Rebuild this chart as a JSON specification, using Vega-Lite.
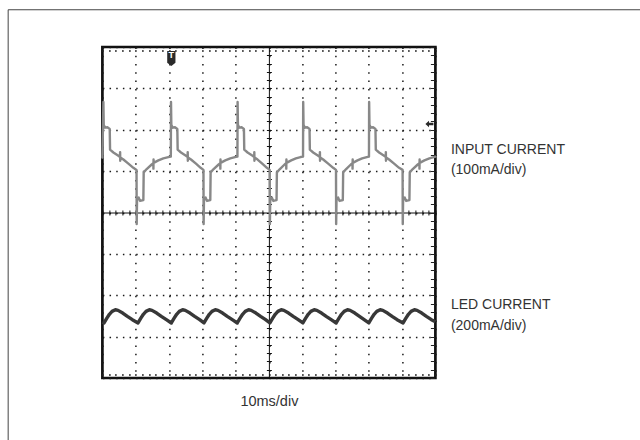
{
  "$schema": "https://vega.github.io/schema/vega-lite/v6.json",
  "width": 333,
  "height": 331,
  "autosize": {"type": "none"},
  "padding": {"left": 102.4, "top": 47, "right": 204.6, "bottom": 62},
  "background": "white",
  "config": {"view": {"stroke": "#111", "strokeWidth": 2.7}},
  "datasets": {
    "markers": [{"t": 2.07, "level": 6.14}],
    "input": [
      {"t":0,"v":5.33},{"t":0.03,"v":6.67},{"t":0.04,"v":6.12},{"t":0.08,"v":6.05},{"t":0.15,"v":6.06},{"t":0.22,"v":6.02},{"t":0.23,"v":5.52},{"t":0.33,"v":5.45},{"t":0.48,"v":5.37},{"t":0.53,"v":5.34},{"t":0.532,"v":5.46},{"t":0.536,"v":5.25},{"t":0.54,"v":5.33},{"t":0.63,"v":5.28},{"t":0.78,"v":5.18},{"t":0.93,"v":5.08},{"t":1.025,"v":5.03},{"t":1.03,"v":3.72},{"t":1.04,"v":4.3},{"t":1.09,"v":4.36},{"t":1.13,"v":4.28},{"t":1.23,"v":4.3},{"t":1.24,"v":4.97},{"t":1.33,"v":5.05},{"t":1.48,"v":5.16},{"t":1.53,"v":5.19},{"t":1.532,"v":5.06},{"t":1.536,"v":5.28},{"t":1.54,"v":5.2},{"t":1.68,"v":5.26},{"t":1.83,"v":5.31},{"t":1.98,"v":5.34},{"t":2.055,"v":5.35},
      {"t":2.06,"v":6.67},{"t":2.07,"v":6.12},{"t":2.11,"v":6.05},{"t":2.18,"v":6.06},{"t":2.25,"v":6.02},{"t":2.26,"v":5.52},{"t":2.36,"v":5.45},{"t":2.51,"v":5.37},{"t":2.56,"v":5.34},{"t":2.562,"v":5.46},{"t":2.566,"v":5.25},{"t":2.57,"v":5.33},{"t":2.66,"v":5.28},{"t":2.81,"v":5.18},{"t":2.95,"v":5.08},{"t":3.035,"v":5.03},{"t":3.04,"v":3.72},{"t":3.05,"v":4.3},{"t":3.1,"v":4.36},{"t":3.14,"v":4.28},{"t":3.24,"v":4.3},{"t":3.25,"v":4.97},{"t":3.34,"v":5.05},{"t":3.49,"v":5.16},{"t":3.54,"v":5.19},{"t":3.542,"v":5.06},{"t":3.546,"v":5.28},{"t":3.55,"v":5.2},{"t":3.69,"v":5.26},{"t":3.84,"v":5.31},{"t":3.98,"v":5.34},{"t":4.055,"v":5.35},
      {"t":4.06,"v":6.67},{"t":4.07,"v":6.12},{"t":4.11,"v":6.05},{"t":4.18,"v":6.06},{"t":4.25,"v":6.02},{"t":4.26,"v":5.52},{"t":4.36,"v":5.45},{"t":4.51,"v":5.37},{"t":4.56,"v":5.34},{"t":4.562,"v":5.46},{"t":4.566,"v":5.25},{"t":4.57,"v":5.33},{"t":4.66,"v":5.28},{"t":4.8,"v":5.18},{"t":4.94,"v":5.08},{"t":5.025,"v":5.03},{"t":5.03,"v":3.72},{"t":5.04,"v":4.3},{"t":5.09,"v":4.36},{"t":5.13,"v":4.28},{"t":5.23,"v":4.3},{"t":5.24,"v":4.97},{"t":5.33,"v":5.05},{"t":5.47,"v":5.16},{"t":5.52,"v":5.19},{"t":5.522,"v":5.06},{"t":5.526,"v":5.28},{"t":5.53,"v":5.2},{"t":5.67,"v":5.26},{"t":5.81,"v":5.31},{"t":5.95,"v":5.34},{"t":6.025,"v":5.35},
      {"t":6.03,"v":6.67},{"t":6.04,"v":6.12},{"t":6.08,"v":6.05},{"t":6.15,"v":6.06},{"t":6.22,"v":6.02},{"t":6.23,"v":5.52},{"t":6.33,"v":5.45},{"t":6.48,"v":5.37},{"t":6.53,"v":5.34},{"t":6.532,"v":5.46},{"t":6.536,"v":5.25},{"t":6.54,"v":5.33},{"t":6.63,"v":5.28},{"t":6.78,"v":5.18},{"t":6.93,"v":5.08},{"t":7.015,"v":5.03},{"t":7.02,"v":3.72},{"t":7.03,"v":4.3},{"t":7.08,"v":4.36},{"t":7.12,"v":4.28},{"t":7.22,"v":4.3},{"t":7.23,"v":4.97},{"t":7.32,"v":5.05},{"t":7.46,"v":5.16},{"t":7.51,"v":5.19},{"t":7.512,"v":5.06},{"t":7.516,"v":5.28},{"t":7.52,"v":5.2},{"t":7.66,"v":5.26},{"t":7.8,"v":5.31},{"t":7.94,"v":5.34},{"t":8.005,"v":5.35},
      {"t":8.01,"v":6.67},{"t":8.02,"v":6.12},{"t":8.06,"v":6.05},{"t":8.13,"v":6.06},{"t":8.2,"v":6.02},{"t":8.21,"v":5.52},{"t":8.31,"v":5.45},{"t":8.46,"v":5.37},{"t":8.51,"v":5.34},{"t":8.512,"v":5.46},{"t":8.516,"v":5.25},{"t":8.52,"v":5.33},{"t":8.61,"v":5.28},{"t":8.76,"v":5.18},{"t":8.91,"v":5.08},{"t":9.015,"v":5.03},{"t":9.02,"v":3.72},{"t":9.03,"v":4.3},{"t":9.08,"v":4.36},{"t":9.12,"v":4.28},{"t":9.22,"v":4.3},{"t":9.23,"v":4.97},{"t":9.32,"v":5.05},{"t":9.47,"v":5.16},{"t":9.52,"v":5.19},{"t":9.522,"v":5.06},{"t":9.526,"v":5.28},{"t":9.53,"v":5.2},{"t":9.67,"v":5.26},{"t":9.82,"v":5.31},{"t":10,"v":5.35}
    ],
    "led": [
      {"t":0,"v":1.35},
      {"t":0.05,"v":1.33},{"t":0.13,"v":1.44},{"t":0.21,"v":1.54},{"t":0.29,"v":1.61},{"t":0.39,"v":1.65},{"t":0.47,"v":1.635},{"t":0.61,"v":1.57},{"t":0.75,"v":1.49},{"t":0.9,"v":1.41},
      {"t":1.07,"v":1.33},{"t":1.15,"v":1.44},{"t":1.23,"v":1.54},{"t":1.31,"v":1.61},{"t":1.41,"v":1.65},{"t":1.49,"v":1.635},{"t":1.63,"v":1.57},{"t":1.77,"v":1.49},{"t":1.92,"v":1.41},
      {"t":2.07,"v":1.33},{"t":2.15,"v":1.44},{"t":2.23,"v":1.54},{"t":2.31,"v":1.61},{"t":2.41,"v":1.65},{"t":2.49,"v":1.635},{"t":2.63,"v":1.57},{"t":2.77,"v":1.49},{"t":2.92,"v":1.41},
      {"t":3.05,"v":1.33},{"t":3.13,"v":1.44},{"t":3.21,"v":1.54},{"t":3.29,"v":1.61},{"t":3.39,"v":1.65},{"t":3.47,"v":1.635},{"t":3.61,"v":1.57},{"t":3.75,"v":1.49},{"t":3.9,"v":1.41},
      {"t":4.05,"v":1.33},{"t":4.13,"v":1.44},{"t":4.21,"v":1.54},{"t":4.29,"v":1.61},{"t":4.39,"v":1.65},{"t":4.47,"v":1.635},{"t":4.61,"v":1.57},{"t":4.75,"v":1.49},{"t":4.9,"v":1.41},
      {"t":5.03,"v":1.33},{"t":5.11,"v":1.44},{"t":5.19,"v":1.54},{"t":5.27,"v":1.61},{"t":5.37,"v":1.65},{"t":5.45,"v":1.635},{"t":5.59,"v":1.57},{"t":5.73,"v":1.49},{"t":5.88,"v":1.41},
      {"t":6.02,"v":1.33},{"t":6.1,"v":1.44},{"t":6.18,"v":1.54},{"t":6.26,"v":1.61},{"t":6.36,"v":1.65},{"t":6.44,"v":1.635},{"t":6.58,"v":1.57},{"t":6.72,"v":1.49},{"t":6.87,"v":1.41},
      {"t":7.02,"v":1.33},{"t":7.1,"v":1.44},{"t":7.18,"v":1.54},{"t":7.26,"v":1.61},{"t":7.36,"v":1.65},{"t":7.44,"v":1.635},{"t":7.58,"v":1.57},{"t":7.72,"v":1.49},{"t":7.86,"v":1.41},
      {"t":8.0,"v":1.33},{"t":8.08,"v":1.44},{"t":8.16,"v":1.54},{"t":8.24,"v":1.61},{"t":8.34,"v":1.65},{"t":8.42,"v":1.635},{"t":8.56,"v":1.57},{"t":8.7,"v":1.49},{"t":8.85,"v":1.41},
      {"t":9.03,"v":1.33},{"t":9.11,"v":1.44},{"t":9.19,"v":1.54},{"t":9.27,"v":1.61},{"t":9.37,"v":1.65},{"t":9.45,"v":1.635},{"t":9.59,"v":1.57},{"t":9.73,"v":1.49},{"t":9.88,"v":1.41},
      {"t":10,"v":1.36}
    ]
  },
  "resolve": {"axis": {"x": "independent", "y": "independent"}},
  "layer": [
    {
      "data": {"name": "markers"},
      "mark": {"type": "rect", "filled": false, "stroke": "#444", "strokeWidth": 1, "clip": false},
      "encoding": {
        "x": {"datum": -2.83, "type": "quantitative", "scale": {"domain": [0, 10], "nice": false, "zero": false},
          "axis": {"orient": "bottom", "title": "10ms/div", "labels": false, "ticks": false, "domain": false, "grid": false,
            "titleFont": "Liberation Sans, sans-serif", "titleFontSize": 14.5, "titleFontWeight": "normal",
            "titleColor": "#333", "titleBaseline": "alphabetic", "titlePadding": 27}},
        "x2": {"datum": 20},
        "y": {"datum": 8.9, "type": "quantitative", "scale": {"domain": [0, 8], "nice": false, "zero": false}, "axis": null},
        "y2": {"datum": -3}
      }
    },
    {
      "data": {"name": "input"},
      "mark": {"type": "line", "color": "#888888", "strokeWidth": 2.4, "strokeJoin": "round", "strokeCap": "round"},
      "encoding": {
        "x": {"field": "t", "type": "quantitative", "scale": {"domain": [0, 10], "nice": false, "zero": false},
          "axis": {"orient": "bottom", "title": null, "values": [0,1,2,3,4,5,6,7,8,9,10], "grid": true, "gridColor": "#1a1a1a", "gridWidth": 1.5, "gridDash": [1.5, 6.775], "labels": false, "ticks": false, "domain": false}},
        "y": {"field": "v", "type": "quantitative", "scale": {"domain": [0, 8], "nice": false, "zero": false},
          "axis": {"orient": "left", "title": null, "values": [0,1,2,3,4,5,6,7,8], "grid": true, "gridColor": "#1a1a1a", "gridWidth": 1.5, "gridDash": [1.5, 5.16], "labels": false, "ticks": false, "domain": false}}
      }
    },
    {
      "data": {"name": "led"},
      "mark": {"type": "line", "color": "#383838", "strokeWidth": 3.4, "strokeJoin": "round"},
      "encoding": {
        "x": {"field": "t", "type": "quantitative", "scale": {"domain": [0, 10], "nice": false, "zero": false},
          "axis": {"orient": "bottom", "offset": -165.5, "title": null, "grid": false, "labels": false, "domain": true, "domainColor": "#111", "domainWidth": 1, "ticks": true, "tickSize": 2.5, "tickColor": "#111", "tickWidth": 1,
            "values": [0,0.2,0.4,0.6,0.8,1,1.2,1.4,1.6,1.8,2,2.2,2.4,2.6,2.8,3,3.2,3.4,3.6,3.8,4,4.2,4.4,4.6,4.8,5,5.2,5.4,5.6,5.8,6,6.2,6.4,6.6,6.8,7,7.2,7.4,7.6,7.8,8,8.2,8.4,8.6,8.8,9,9.2,9.4,9.6,9.8,10]}},
        "y": {"field": "v", "type": "quantitative", "scale": {"domain": [0, 8], "nice": false, "zero": false},
          "axis": {"orient": "left", "offset": -166.5, "title": null, "grid": false, "labels": false, "domain": true, "domainColor": "#111", "domainWidth": 1, "ticks": true, "tickSize": 2.5, "tickColor": "#111", "tickWidth": 1,
            "values": [0,0.2,0.4,0.6,0.8,1,1.2,1.4,1.6,1.8,2,2.2,2.4,2.6,2.8,3,3.2,3.4,3.6,3.8,4,4.2,4.4,4.6,4.8,5,5.2,5.4,5.6,5.8,6,6.2,6.4,6.6,6.8,7,7.2,7.4,7.6,7.8,8]}}
      }
    },
    {
      "data": {"name": "markers"},
      "mark": {"type": "point", "filled": true, "opacity": 1, "color": "#2a2a2a", "size": 225, "shape": "M-0.55,-1L0.55,-1L0.55,0.55L0,1L-0.55,0.55Z"},
      "encoding": {
        "x": {"field": "t", "type": "quantitative", "scale": {"domain": [0, 10], "nice": false, "zero": false},
          "axis": {"orient": "top", "offset": -165.5, "title": null, "grid": false, "labels": false, "domain": false, "ticks": true, "tickSize": 2.5, "tickColor": "#111", "tickWidth": 1,
            "values": [0,0.2,0.4,0.6,0.8,1,1.2,1.4,1.6,1.8,2,2.2,2.4,2.6,2.8,3,3.2,3.4,3.6,3.8,4,4.2,4.4,4.6,4.8,5,5.2,5.4,5.6,5.8,6,6.2,6.4,6.6,6.8,7,7.2,7.4,7.6,7.8,8,8.2,8.4,8.6,8.8,9,9.2,9.4,9.6,9.8,10]}},
        "y": {"datum": 7.72, "type": "quantitative", "scale": {"domain": [0, 8], "nice": false, "zero": false},
          "axis": {"orient": "right", "offset": -166.5, "title": null, "grid": false, "labels": false, "domain": false, "ticks": true, "tickSize": 2.5, "tickColor": "#111", "tickWidth": 1,
            "values": [0,0.2,0.4,0.6,0.8,1,1.2,1.4,1.6,1.8,2,2.2,2.4,2.6,2.8,3,3.2,3.4,3.6,3.8,4,4.2,4.4,4.6,4.8,5,5.2,5.4,5.6,5.8,6,6.2,6.4,6.6,6.8,7,7.2,7.4,7.6,7.8,8]}}
      }
    },
    {
      "data": {"name": "markers"},
      "mark": {"type": "text", "text": "T", "color": "white", "fontSize": 9, "fontWeight": "bold", "font": "Liberation Sans", "baseline": "middle", "align": "center"},
      "encoding": {
        "x": {"field": "t", "type": "quantitative", "scale": {"domain": [0, 10], "nice": false, "zero": false},
          "axis": {"orient": "bottom", "offset": -4.5, "title": null, "grid": false, "labels": false, "domain": false, "ticks": true, "tickSize": 2, "tickColor": "#222", "tickWidth": 1.3,
            "values": [0,0.2,0.4,0.6,0.8,1,1.2,1.4,1.6,1.8,2,2.2,2.4,2.6,2.8,3,3.2,3.4,3.6,3.8,4,4.2,4.4,4.6,4.8,5,5.2,5.4,5.6,5.8,6,6.2,6.4,6.6,6.8,7,7.2,7.4,7.6,7.8,8,8.2,8.4,8.6,8.8,9,9.2,9.4,9.6,9.8,10]}},
        "y": {"datum": 7.8, "type": "quantitative", "scale": {"domain": [0, 8], "nice": false, "zero": false},
          "axis": {"orient": "right", "offset": -5, "title": null, "grid": false, "labels": false, "domain": false, "ticks": true, "tickSize": 4, "tickColor": "#222", "tickWidth": 1,
            "values": [0,0.2,0.4,0.6,0.8,1,1.2,1.4,1.6,1.8,2,2.2,2.4,2.6,2.8,3,3.2,3.4,3.6,3.8,4,4.2,4.4,4.6,4.8,5,5.2,5.4,5.6,5.8,6,6.2,6.4,6.6,6.8,7,7.2,7.4,7.6,7.8,8]}}
      }
    },
    {
      "data": {"name": "markers"},
      "mark": {"type": "point", "filled": true, "opacity": 1, "color": "#2a2a2a", "size": 64, "shape": "M-1,0L-0.1,-0.8L-0.1,-0.3L1,-0.3L1,0.3L-0.1,0.3L-0.1,0.8Z"},
      "encoding": {
        "x": {"datum": 9.82, "type": "quantitative", "scale": {"domain": [0, 10], "nice": false, "zero": false},
          "axis": {"orient": "top", "offset": -4.5, "title": null, "grid": false, "labels": false, "domain": false, "ticks": true, "tickSize": 2, "tickColor": "#222", "tickWidth": 1.3,
            "values": [0,0.2,0.4,0.6,0.8,1,1.2,1.4,1.6,1.8,2,2.2,2.4,2.6,2.8,3,3.2,3.4,3.6,3.8,4,4.2,4.4,4.6,4.8,5,5.2,5.4,5.6,5.8,6,6.2,6.4,6.6,6.8,7,7.2,7.4,7.6,7.8,8,8.2,8.4,8.6,8.8,9,9.2,9.4,9.6,9.8,10]}},
        "y": {"field": "level", "type": "quantitative", "scale": {"domain": [0, 8], "nice": false, "zero": false},
          "axis": {"orient": "right", "offset": 0, "title": null, "grid": false, "domain": false, "ticks": false, "tickSize": 0,
            "values": [5.414, 4.95, 1.668, 1.184],
            "labelExpr": "datum.value > 5.2 ? 'INPUT CURRENT' : datum.value > 3 ? '(100mA/div)' : datum.value > 1.4 ? 'LED CURRENT' : '(200mA/div)'",
            "labelFont": "Liberation Sans, sans-serif", "labelFontSize": 14, "labelColor": "#333",
            "labelAlign": "left", "labelBaseline": "alphabetic", "labelPadding": 15, "labelOverlap": false, "labelFlush": false, "labelBound": false}}
      }
    }
  ]
}
